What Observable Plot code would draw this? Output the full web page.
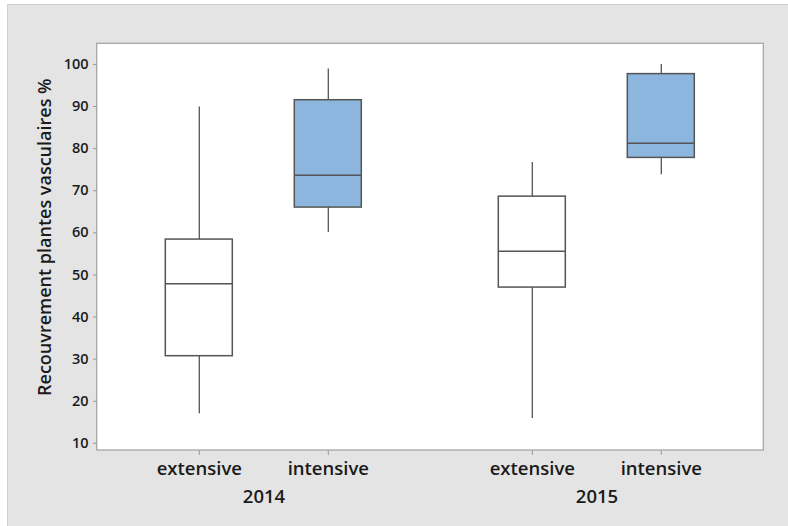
<!DOCTYPE html>
<html><head><meta charset="utf-8">
<script src="https://cdn.jsdelivr.net/npm/d3@7"></script>
<script src="https://cdn.jsdelivr.net/npm/@observablehq/plot@0.6"></script>
<style>
body{margin:0;background:#fff;}
#wrap{position:absolute;left:7px;top:4px;width:781px;height:522px;background:#e4e4e4;border-left:1px solid #cfcfcf;border-top:1px solid #cfcfcf;overflow:hidden;}
#wrap svg{display:block;}
</style></head><body><div id="wrap"></div>
<script>
// ---- data ----
const years = ["2014", "2014", "2015", "2015"];
const types = ["extensive", "intensive", "extensive", "intensive"];
const whiskerLow = [17.0, 60.1, 15.9, 73.8];
const q1 = [30.7, 66.0, 47.0, 77.8];
const median = [47.9, 73.7, 55.6, 81.3];
const q3 = [58.4, 91.5, 68.6, 97.7];
const whiskerHigh = [89.9, 98.9, 76.7, 100.0];
const yearLabels = ["2014", "2015"];
const typeLabels = ["extensive", "intensive"];
const yTicks = [10, 20, 30, 40, 50, 60, 70, 80, 90, 100];
const yTitle = "Recouvrement plantes vasculaires %";

const rows = years.map((y, i) => ({
  year: y, type: types[i], lo: whiskerLow[i], q1: q1[i],
  med: median[i], q3: q3[i], hi: whiskerHigh[i]
}));

const W = 780, H = 521;
const mL = 88.7, mR = 24.7, mT = 38.3, mB = 76;
const font = "'Open Sans', sans-serif";
const ink = "#555";

const chart = Plot.plot({
  width: W, height: H,
  marginLeft: mL, marginRight: mR, marginTop: mT, marginBottom: mB,
  style: {background: "transparent", fontFamily: font, color: "#1a1a1a", overflow: "visible"},
  fx: {domain: yearLabels, padding: 0, axis: null},
  x: {domain: typeLabels, paddingInner: 0.477, paddingOuter: 0.527, axis: null},
  y: {domain: [8.3, 104.9], axis: null},
  color: {domain: typeLabels, range: ["white", "#8db6de"]},
  marks: [
    Plot.ruleX(rows, {fx: "year", x: "type", y1: "lo", y2: "hi", stroke: ink, strokeWidth: 1.3}),
    Plot.barY(rows, {fx: "year", x: "type", y1: "q1", y2: "q3", fill: "type", stroke: ink, strokeWidth: 1.5}),
    Plot.tickY(rows, {fx: "year", x: "type", y: "med", stroke: ink, strokeWidth: 1.5}),
    Plot.axisY({ticks: yTicks, tickSize: 4, tickPadding: 5, stroke: "#999", fontSize: 14.5, fontWeight: 600, label: null}),
    Plot.axisX({tickSize: 5, tickPadding: 6, stroke: "#999", fontSize: 18.5, fontWeight: 600, label: null}),
    Plot.text(yearLabels, {fx: d => d, text: d => d, frameAnchor: "bottom", dy: 52, fontSize: 18.5, fontWeight: 600}),
    Plot.text([yTitle], {fx: () => yearLabels[0], text: d => d, frameAnchor: "left", textAnchor: "middle", rotate: -90, dx: -52, dy: -10, fontSize: 18, fontWeight: 600})
  ]
});

document.getElementById("wrap").appendChild(chart);

// white plot area and its border, sized from the scales' ranges
const fxR = chart.scale("fx").range;
const yR = chart.scale("y").range;
const px = Math.min(...fxR), py = Math.min(...yR);
const pw = Math.abs(fxR[1] - fxR[0]), ph = Math.abs(yR[0] - yR[1]);
const svg = d3.select(chart);
svg.insert("rect", ":first-child")
  .attr("x", px).attr("y", py).attr("width", pw).attr("height", ph)
  .attr("fill", "white");
svg.append("rect")
  .attr("x", px).attr("y", py).attr("width", pw).attr("height", ph)
  .attr("fill", "none").attr("stroke", "#a6a6a6").attr("stroke-width", 1.3);
</script>
</body></html>
